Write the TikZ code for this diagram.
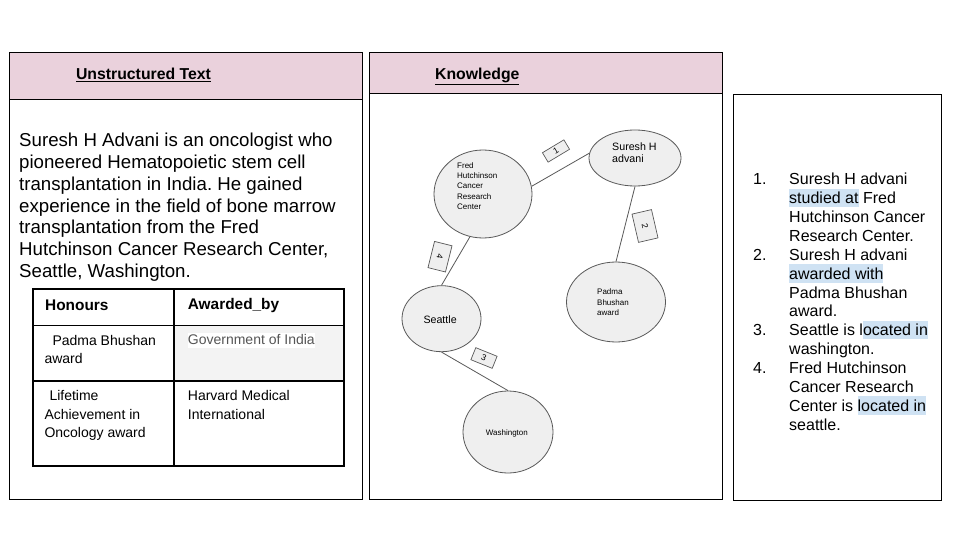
\documentclass[tikz,border=0pt]{standalone}
\usepackage{fontspec}
\setmainfont{Liberation Sans}
\usetikzlibrary{shapes.geometric}
\frenchspacing
\definecolor{hdrpink}{HTML}{EAD1DC}
\definecolor{ellfill}{HTML}{EFEFEF}
\definecolor{ellline}{HTML}{595959}
\definecolor{cellgray}{HTML}{F3F3F3}
\definecolor{hlblue}{HTML}{CFE2F3}
\definecolor{govgray}{HTML}{555555}
\newcommand\hlb[1]{{\setlength{\fboxsep}{0pt}\colorbox{hlblue}{\rule[-3.4pt]{0pt}{18.4pt}#1}}}
\begin{document}
\begin{tikzpicture}[x=1pt,y=-1pt,
  panel/.style={draw=black,line width=0.9pt},
  header/.style={fill=hdrpink,draw=black,line width=0.9pt},
  hdrtext/.style={anchor=base,inner sep=0pt,font=\fontsize{15.8}{18}\selectfont\bfseries},
  tline/.style={draw=black,line width=1.2pt},
  thead/.style={anchor=base west,inner sep=0pt,font=\fontsize{15.4}{18}\selectfont\bfseries},
  tbody/.style={anchor=base west,inner sep=0pt,align=left,font=\fontsize{14}{18.3}\selectfont},
  ell/.style={ellipse,draw=ellline,fill=ellfill,line width=0.8pt,inner sep=0pt},
  gsmall/.style={anchor=base west,inner sep=0pt,align=left,font=\fontsize{8}{10.3}\selectfont},
  gbig/.style={anchor=base west,inner sep=0pt,align=left,font=\fontsize{10.67}{11.5}\selectfont},
  edge/.style={draw=ellline,line width=0.8pt},
  elab/.style={draw=ellline,fill=ellfill,line width=0.7pt,inner sep=0pt,font=\fontsize{8.5}{10}\selectfont}
]
\useasboundingbox (0,0) rectangle (960,540);
\fill[white] (0,0) rectangle (960,540);

% ---------- panel 1 ----------
\draw[panel] (9,52) rectangle (362.5,499.5);
\draw[header] (9,52) rectangle (362.5,99.3);
\node[hdrtext] (h1) at (143.5,80) {\underline{Unstructured Text}};

% base anchor of a multi-line node = baseline of its last line
\node[anchor=base west,align=left,inner sep=0pt,font=\fontsize{18.67}{21.8}\selectfont] (para) at (19,277.5)
 {Suresh H Advani is an oncologist who\\pioneered Hematopoietic stem cell\\transplantation in India. He gained\\experience in the field of bone marrow\\transplantation from the Fred\\Hutchinson Cancer Research Center,\\Seattle, Washington.};

% table
\fill[cellgray] (174,325.5) rectangle (344,381);
\draw[tline] (33,289) rectangle (344,466);
\draw[tline] (33,325.5) -- (344,325.5);
\draw[tline] (33,381) -- (344,381);
\draw[tline] (174,289) -- (174,466);
\node[thead] (th1) at (45,310.5) {Honours};
\node[thead] (th2) at (187.7,309.5) {Awarded\_by};
\node[tbody] (c11) at (44.3,363.3) {\hspace*{8pt}Padma Bhushan\\award};
\node[tbody,fill=white,text=govgray,text height=11pt,text depth=3.7pt] (c12) at (187.7,344.3) {Government of India};
\node[tbody] (c21) at (44.3,437.3) {\hspace*{5pt}Lifetime\\Achievement in\\Oncology award};
\node[tbody] (c22) at (187.7,419) {Harvard Medical\\International};

% ---------- panel 2 ----------
\draw[panel] (369,52) rectangle (722.5,499.5);
\draw[header] (369,52) rectangle (722.5,93.5);
\node[hdrtext] (h2) at (477.3,79.3) {\underline{Knowledge}};

\node[ell,minimum width=98pt,minimum height=88pt] (fred) at (483,194) {};
\node[ell,minimum width=92pt,minimum height=56pt] (suresh) at (635,158) {};
\node[ell,minimum width=99pt,minimum height=80pt] (padma) at (616,302) {};
\node[ell,minimum width=79pt,minimum height=66pt] (seattle) at (441.5,318.7) {};
\node[ell,minimum width=90pt,minimum height=82pt] (wash) at (508,432) {};

\node[gsmall] (fredt) at (457,209.5) {Fred\\Hutchinson\\Cancer\\Research\\Center};
\node[gbig] (suresht) at (612,162.2) {Suresh H\\advani};
\node[gsmall,font=\fontsize{8}{10.7}\selectfont] (padmat) at (597,315.7) {Padma\\Bhushan\\award};
\node[gbig] (seattlet) at (423.3,323.3) {Seattle};
\node[gsmall] (washt) at (485.7,435) {Washington};

\draw[edge] (fred.9) -- (suresh.174);
\draw[edge] (suresh.-90) -- (padma.90);
\draw[edge] (fred.-107) -- (seattle.90);
\draw[edge] (seattle.-90) -- (wash.90);

\node[elab,minimum width=25pt,minimum height=11pt,rotate=31] (l1) at (556,151) {1};
\node[elab,minimum width=29pt,minimum height=20pt,rotate=-77] (l2) at (645,226) {2};
\node[elab,minimum width=27pt,minimum height=18pt,rotate=-104] (l4) at (440,256.7) {4};
\node[elab,minimum width=23pt,minimum height=13pt,rotate=-22] (l3) at (484,358) {3};

% ---------- panel 3 ----------
\draw[panel] (733,94) rectangle (941.5,500.5);
\node[anchor=base west,align=left,inner sep=0pt,font=\fontsize{16}{18.85}\selectfont] (list) at (753,430)
 {\makebox[36pt][l]{1.}Suresh H advani\\
  \makebox[36pt]{}\hlb{studied at} Fred\\
  \makebox[36pt]{}Hutchinson Cancer\\
  \makebox[36pt]{}Research Center.\\
  \makebox[36pt][l]{2.}Suresh H advani\\
  \makebox[36pt]{}\hlb{awarded with}\\
  \makebox[36pt]{}Padma Bhushan\\
  \makebox[36pt]{}award.\\
  \makebox[36pt][l]{3.}Seattle is l\hlb{ocated in}\\
  \makebox[36pt]{}washington.\\
  \makebox[36pt][l]{4.}Fred Hutchinson\\
  \makebox[36pt]{}Cancer Research\\
  \makebox[36pt]{}Center is \hlb{located in}\\
  \makebox[36pt]{}seattle.};
\end{tikzpicture}
\end{document}
